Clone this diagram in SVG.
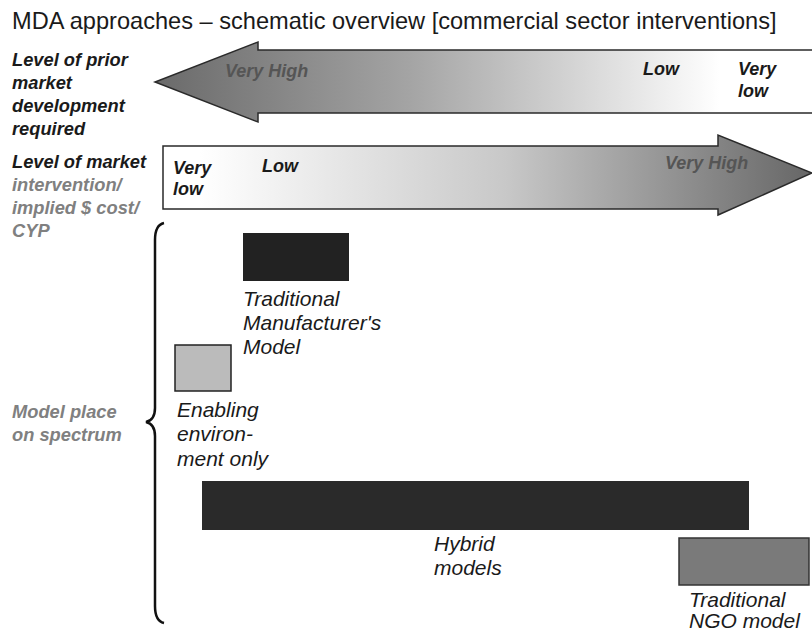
<svg xmlns="http://www.w3.org/2000/svg" width="812" height="633" viewBox="0 0 812 633">
<defs>
<linearGradient id="gTop" gradientUnits="userSpaceOnUse" x1="155" y1="0" x2="720" y2="0">
<stop offset="0" stop-color="#6a6a6a"/>
<stop offset="0.45" stop-color="#a4a4a4"/>
<stop offset="1" stop-color="#ffffff"/>
</linearGradient>
<linearGradient id="gBot" gradientUnits="userSpaceOnUse" x1="200" y1="0" x2="812" y2="0">
<stop offset="0" stop-color="#ffffff"/>
<stop offset="0.5" stop-color="#c8c8c8"/>
<stop offset="1" stop-color="#666666"/>
</linearGradient>
</defs>
<style>
text{font-family:"Liberation Sans",Arial,sans-serif;font-style:italic}
.title{font-style:normal;font-size:23.6px;fill:#1a1a1a}
.lab{font-size:18.3px;font-weight:bold;fill:#1a1a1a}
.gray{fill:#808080}
.arr{font-size:18px;font-weight:bold;fill:#1a1a1a}
.arrg{font-size:18px;font-weight:bold;fill:#555555}
.box{font-size:21px;fill:#1a1a1a}
.ar{stroke:#2a2a2a;stroke-width:1.5}
</style>
<text class="title" x="12" y="29">MDA approaches – schematic overview [commercial sector interventions]</text>

<g id="axis-prior">
<path class="ar" d="M812 50 L258 50 L258 42 L155 82 L258 122 L258 113 L812 113" fill="url(#gTop)"/>
<text class="arrg" x="225" y="77">Very High</text>
<text class="arr" x="643" y="75">Low</text>
<text class="arr" x="738" y="75">Very</text>
<text class="arr" x="738" y="97">low</text>
<text class="lab" x="12" y="66">Level of prior</text>
<text class="lab" x="12" y="89">market</text>
<text class="lab" x="12" y="112">development</text>
<text class="lab" x="12" y="135">required</text>
</g>

<g id="axis-intervention">
<path class="ar" d="M163 146 L718 146 L718 135 L812 173 L718 215 L718 209 L163 209 Z" fill="url(#gBot)"/>
<text class="arr" x="173" y="174">Very</text>
<text class="arr" x="173" y="195">low</text>
<text class="arr" x="262" y="172">Low</text>
<text class="arrg" x="665" y="169">Very High</text>
<text class="lab" x="12" y="168">Level of market</text>
<text class="lab gray" x="12" y="191">intervention/</text>
<text class="lab gray" x="12" y="214">implied $ cost/</text>
<text class="lab gray" x="12" y="237">CYP</text>
</g>

<g id="connectors">
<path d="M164 223 Q155 225 155 240 L155 408 Q155 420 146 422 Q155 424 155 436 L155 606 Q155 621 164 623" fill="none" stroke="#111" stroke-width="2.5"/>
</g>

<g id="spectrum-label">
<text class="lab gray" x="12" y="418">Model place</text>
<text class="lab gray" x="12" y="441">on spectrum</text>
</g>

<g id="traditional-manufacturer">
<rect x="243" y="233" width="106" height="48" fill="#222"/>
<text class="box" x="243" y="306">Traditional</text>
<text class="box" x="243" y="330">Manufacturer's</text>
<text class="box" x="243" y="354">Model</text>
</g>

<g id="enabling-environment">
<rect x="175" y="345" width="56" height="46" fill="#bbbbbb" stroke="#222" stroke-width="1.5"/>
<text class="box" x="177" y="417">Enabling</text>
<text class="box" x="177" y="441">environ-</text>
<text class="box" x="177" y="466">ment only</text>
</g>

<g id="hybrid-models">
<rect x="202" y="481" width="547" height="49" fill="#2a2a2a"/>
<text class="box" x="434" y="551">Hybrid</text>
<text class="box" x="434" y="575">models</text>
</g>

<g id="traditional-ngo">
<rect x="679" y="538" width="130" height="47" fill="#7a7a7a" stroke="#333" stroke-width="1.5"/>
<text class="box" x="689" y="607">Traditional</text>
<text class="box" x="689" y="628">NGO model</text>
</g>
</svg>
